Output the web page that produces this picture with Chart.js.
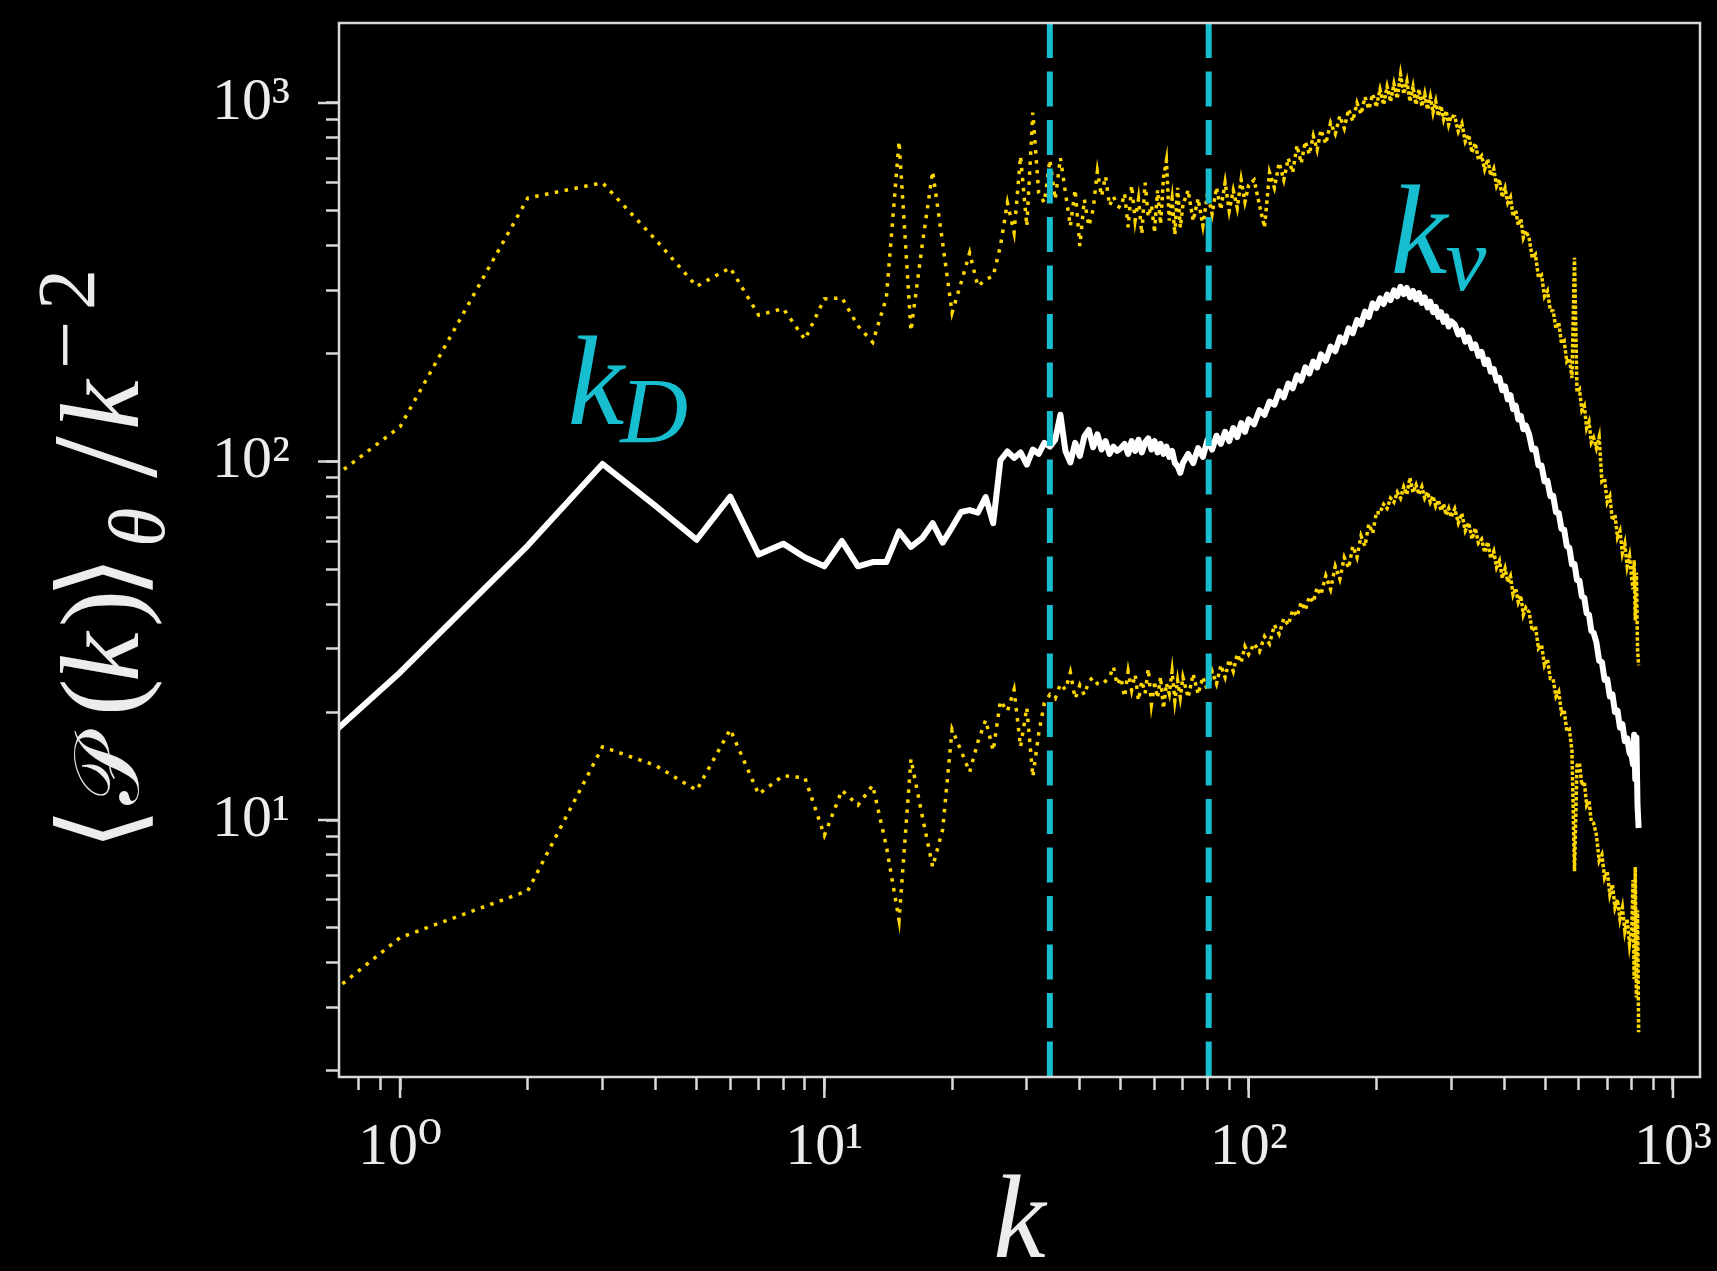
<!DOCTYPE html>
<html><head><meta charset="utf-8">
<script src="https://cdn.jsdelivr.net/npm/chart.js"></script>
<style>
html,body{margin:0;padding:0;background:#000;}
canvas{display:block;}
</style></head>
<body>
<canvas id="c" width="1717" height="1271"></canvas>
<script>
// ---------------- data ----------------
const kValues = [0.5, 1, 2, 3, 4, 5, 6, 7, 8, 9, 10, 11, 12, 13, 14, 15, 16, 17, 18, 19, 20,
  21, 22, 23, 24, 25, 26, 27, 28, 29, 30, 31, 32, 33, 34, 35, 36, 37, 38, 39, 40,
  41, 42, 43, 44, 45, 46, 47, 48, 49, 50,
  51, 52, 53, 54, 55, 56, 57, 58, 59, 60, 61, 62, 63, 64, 65, 66, 67, 68, 69, 70,
  72, 74, 76, 78, 80, 82, 84, 86, 88, 90, 92, 94, 96, 98, 100,
  103, 106, 109, 112, 115, 118, 121, 124, 127, 130, 133, 136, 139, 142, 145, 148,
  152, 156, 160, 164, 168, 172, 176, 180, 184, 188, 192, 196, 200,
  204, 208, 212, 216, 220, 224, 228, 232, 236, 240, 244, 248, 252, 256, 260, 264, 268, 272, 276, 280, 284, 288, 292, 296, 300,
  306, 312, 318, 324, 330, 336, 342, 348, 354, 360, 366, 372, 378, 384, 390, 396, 402, 408, 414, 420, 426, 432, 438, 444, 450,
  458, 466, 474, 482, 490, 498, 506, 514, 522, 530, 538, 546, 554, 562, 570, 578, 586, 594, 602, 610, 618, 626, 634, 642, 650,
  660, 670, 680, 690, 700, 710, 720, 730, 740, 750, 760, 770, 780, 790, 800,
  805, 810, 815, 820, 825, 830];

// mean spectrum (white solid)
const meanSpectrum = [12.3, 25.8, 58.3, 98.4, 75.2, 60.5, 79.8, 55, 59, 54, 51,
  60, 51, 52.4, 52.4, 63.8, 57.8, 61.1, 67.3, 59.4, 65.5,
  72.3, 73.2, 72, 79.6, 67.3, 100.8, 106.6, 102.3, 106, 98,
  108, 105, 112.7, 110, 115, 135, 107, 99.4, 112.7, 103.6,
  117.5, 122.5, 109.6, 119, 108, 114, 105, 110, 107, 109,
  112, 105, 114, 107, 115, 106, 113, 116, 108, 114, 106, 112, 105, 110, 103, 107, 99, 97, 93, 99,
  105, 99, 109, 103, 115, 108, 118, 112, 121, 114, 124, 117, 128, 121, 131,
  127, 139, 135, 147, 144, 157, 151, 165, 160, 174, 168, 183, 176, 190, 183, 199,
  191, 209, 203, 222, 215, 235, 228, 248, 241, 262, 253, 276, 268,
  285, 275, 292, 282, 300, 289, 307, 293, 305, 287, 299, 283, 295, 277, 287, 269, 279, 261, 270, 253, 261, 245, 254, 238, 246,
  241, 226, 232, 216, 222, 207, 212, 197, 202, 187, 192, 178, 181, 168, 171, 158, 162, 149, 153, 140, 143, 131, 134, 123, 126,
  119, 108, 108.5, 97.5, 97.5, 88, 88.3, 80, 80.2, 72.2, 71.8, 64.9, 64.6, 58.1, 57.4, 51.7, 51.8, 46.7, 46.5, 42, 41.7, 37.7, 37.4, 33.7, 33.3,
  31.3, 27.8, 27.6, 24.6, 24.7, 22.1, 22.4, 20, 20.2, 18.1, 18.5, 16.6, 16.9, 15.4, 15.0,
  14.3, 17.3, 13, 17, 11, 9.5];

// upper envelope (gold dotted)
const upperSpectrum = [67, 125, 543, 599, 416, 308, 347, 256, 267, 219, 284,
  286, 239, 215, 286, 782, 231, 400, 645, 407, 260,
  315, 382, 308, 322, 329, 399, 527, 435, 711, 453,
  940, 561, 527, 695, 538, 703, 562, 453, 574, 399,
  538, 453, 505, 645, 549, 625, 516, 549, 516, 510,
  560, 450, 590, 470, 540, 430, 600, 480, 520, 440, 570, 460, 620, 690, 470, 540, 430, 580, 450, 520,
  570, 470, 540, 455, 560, 490, 580, 505, 600, 500, 570, 510, 610, 530, 590,
  610, 520, 450, 640, 580, 680, 610, 700, 640, 760, 680, 780, 720, 810, 740, 840,
  770, 880, 820, 920, 850, 960, 890, 1000, 930, 1040, 960, 1060, 980,
  1090, 990, 1110, 1010, 1130, 1030, 1200, 1060, 1150, 1010, 1110, 990, 1090, 980, 1060, 960, 1040, 940, 1010, 920, 980, 900, 950, 870, 920,
  915, 832, 877, 780, 814, 728, 771, 695, 712, 653, 696, 628, 655, 587, 611, 546, 578, 527, 546, 483, 501, 456, 475, 421, 439,
  421, 370, 378, 326, 331, 289, 299, 264, 263, 235, 244, 214, 217, 190, 194, 171, 370, 156, 159, 139, 143, 124, 129, 113, 116.5,
  109, 117, 88, 89.5, 77, 80, 68.5, 71, 61.5, 64, 55.5, 59, 51, 54.5, 47,
  44, 53, 36, 49, 30, 27];

// lower envelope (gold dotted)
const lowerSpectrum = [2.43, 4.7, 6.35, 16.0, 14.2, 12.1, 17.9, 11.8, 13.3, 13.1, 9.06,
  12.1, 11.0, 12.5, 8.45, 5.26, 14.8, 10.3, 7.4, 9.4, 17.9,
  15.6, 13.6, 16.5, 19.0, 15.6, 21.5, 20.1, 23.1, 16.0, 20.6,
  13.2, 17.4, 21.2, 22.4, 21.8, 24.0, 23.1, 25.8, 21.8, 23.8,
  22.3, 24.4, 25.0, 24.0, 23.8, 24.4, 25.0, 26.8, 23.8, 25.0,
  22, 26, 23, 25.5, 21.5, 24.5, 22.5, 26.5, 21, 24, 22, 25, 20.5, 24, 22.5, 26, 21.5, 24.5, 22, 25,
  22, 25.5, 22.5, 25, 23, 26, 24, 27, 25, 28, 26, 29, 27.5, 30.5, 29,
  31, 29.5, 32.5, 31, 35, 33, 36.5, 35, 38.5, 37, 40.5, 38.5, 42, 40.5, 44.5, 42.5,
  48, 44, 51, 47, 54, 50.5, 58, 54, 62, 58, 67, 63, 72,
  72, 76, 74, 79, 77, 82, 79, 85, 81, 90, 82, 86, 81, 85, 79, 82, 77, 80, 75, 78, 73, 76, 71, 74, 70,
  73.8, 67.4, 71.6, 64.1, 67.4, 60.8, 65.1, 59.2, 60.7, 55.8, 59.6, 53.7, 56.2, 50.6, 52.8, 47.3, 50.3, 46.1, 47.9, 42.5, 44.3, 40.5, 42.2, 37.4, 39.1,
  38.0, 33.7, 34.7, 30.1, 30.8, 27.0, 28.1, 24.8, 24.7, 22.1, 22.8, 19.9, 20.3, 17.7, 17.9, 15.6, 7.2, 14.2, 14.4, 12.5, 12.8, 11.0, 11.3, 9.9, 9.8,
  9.1, 7.7, 8.0, 6.9, 7.2, 6.2, 6.6, 5.7, 6.0, 5.3, 5.7, 4.9, 5.3, 4.5, 5.0,
  6.8, 3.6, 7.4, 3.2, 5.6, 2.56];

// vertical reference lines (k values)
const markerK = [34, 80.5];

// axis ranges and ticks
const xRange = [0.718, 1158];
const yRange = [1.92, 1671];
const xMajorTicks = [1, 10, 100, 1000];
const xMajorLabels = ['10\u2070', '10\u00b9', '10\u00b2', '10\u00b3'];
const yMajorTicks = [10, 100, 1000];
const yMajorLabels = ['10\u00b9', '10\u00b2', '10\u00b3'];
const minorMultipliers = [2, 3, 4, 5, 6, 7, 8, 9];
const xMinorDecades = [0.1, 1, 10, 100];
const yMinorDecades = [1, 10, 100, 1000];

// annotation anchors (data coordinates of the text baseline start)
const kDLabelAt = {k: 2.48, v: 127};
const kNuLabelAt = {k: 216, v: 336};

// ---------------- styling ----------------
const SERIF = "'Liberation Serif','DejaVu Serif','DejaVu Sans',serif";
const FRAME = '#d9d9d9';
const GOLD = '#ffd700';
const CYAN = '#17becf';
const TEXT = '#ececec';

function tickList(minors, majors, range) {
  const list = [];
  minors.forEach(d => minorMultipliers.forEach(m => {
    const v = m * d;
    if (v > range[0] && v < range[1]) list.push({value: v, major: false});
  }));
  majors.forEach(v => { if (v > range[0] && v < range[1]) list.push({value: v, major: true}); });
  list.sort((a, b) => a.value - b.value);
  return list;
}

const pts = arr => kValues.map((k, i) => ({x: k, y: arr[i]}));
const vline = k => [{x: k, y: yRange[1]}, {x: k, y: yRange[0]}];
// densely sampled (noisy) part of the dotted curves: the dots crowd together
const dottedSegment = {
  borderDash: ctx => {
    const k = kValues[ctx.p0DataIndex];
    return k >= 200 ? [3.5, 2] : (k >= 60 ? [3.5, 4] : undefined);
  }
};

const bgPlugin = {
  id: 'bg',
  beforeDraw(chart) {
    const c = chart.ctx;
    c.save(); c.fillStyle = '#000'; c.fillRect(0, 0, chart.width, chart.height); c.restore();
  }
};

// place a run so that its ink starts at position `at` along the baseline
function placeRun(c, r) {
  c.font = r.f;
  const m = c.measureText(r.t);
  c.fillText(r.t, r.at + m.actualBoundingBoxLeft, r.dy);
}

const decorPlugin = {
  id: 'decor',
  afterDraw(chart) {
    const c = chart.ctx, a = chart.chartArea, xs = chart.scales.x, ys = chart.scales.y;
    c.save();
    c.strokeStyle = FRAME;
    c.lineWidth = 2.5;
    // long major ticks
    c.beginPath();
    xs.ticks.forEach(t => { if (t.major) { const p = xs.getPixelForValue(t.value); c.moveTo(p, a.bottom); c.lineTo(p, a.bottom + 21); } });
    ys.ticks.forEach(t => { if (t.major) { const p = ys.getPixelForValue(t.value); c.moveTo(a.left - 21, p); c.lineTo(a.left, p); } });
    c.stroke();
    // frame
    c.strokeRect(a.left, a.top, a.right - a.left, a.bottom - a.top);

    // annotations
    c.fillStyle = CYAN;
    c.textBaseline = 'alphabetic';
    c.textAlign = 'left';
    let px = xs.getPixelForValue(kDLabelAt.k), py = ys.getPixelForValue(kDLabelAt.v);
    c.font = `italic 128px ${SERIF}`;
    c.fillText('k', px, py);
    let w = c.measureText('k').width;
    c.font = `italic 94px ${SERIF}`;
    c.fillText('D', px + w - 4, py + 18);

    px = xs.getPixelForValue(kNuLabelAt.k); py = ys.getPixelForValue(kNuLabelAt.v);
    c.font = `italic 128px ${SERIF}`;
    c.fillText('k', px, py);
    w = c.measureText('k').width;
    c.font = `italic 92px ${SERIF}`;
    c.fillText('\u03bd', px + w - 2, py + 17);

    // y axis label  <P(k)>_theta / k^-2  (reading bottom to top)
    c.fillStyle = TEXT;
    c.translate(138, 841);
    c.rotate(-Math.PI / 2);
    const M = 112;
    const runs = [
      {t: '\u27e8', f: `${M}px ${SERIF}`, at: 0, dy: 0},
      {t: '\ud835\udcab', f: `92px ${SERIF}`, at: 36, dy: 0},
      {t: '(', f: `${M}px ${SERIF}`, at: 129, dy: 0},
      {t: 'k', f: `italic ${M}px ${SERIF}`, at: 162, dy: 0},
      {t: ')', f: `${M}px ${SERIF}`, at: 217, dy: 0},
      {t: '\u27e9', f: `${M}px ${SERIF}`, at: 250, dy: 0},
      {t: '\u03b8', f: `italic 80px ${SERIF}`, at: 297, dy: 26},
      {t: '/', f: `150px ${SERIF}`, at: 363, dy: 18},
      {t: 'k', f: `italic ${M}px ${SERIF}`, at: 414, dy: 0},
      {t: '\u2212', f: `86px ${SERIF}`, at: 476, dy: -44},
      {t: '2', f: `82px ${SERIF}`, at: 534, dy: -44}
    ];
    runs.forEach(r => placeRun(c, r));
    c.restore();
  }
};

new Chart(document.getElementById('c'), {
  type: 'line',
  data: {
    datasets: [
      {data: vline(markerK[0]), borderColor: CYAN, borderWidth: 6, borderDash: [35, 13.5], pointRadius: 0, order: 0},
      {data: vline(markerK[1]), borderColor: CYAN, borderWidth: 6, borderDash: [35, 13.5], pointRadius: 0, order: 0},
      {data: pts(meanSpectrum), borderColor: '#ffffff', borderWidth: 6, pointRadius: 0, tension: 0, borderJoinStyle: 'round', order: 1},
      {data: pts(upperSpectrum), borderColor: GOLD, borderWidth: 3.5, borderDash: [3.5, 6.5], segment: dottedSegment, pointRadius: 0, tension: 0, order: 2},
      {data: pts(lowerSpectrum), borderColor: GOLD, borderWidth: 3.5, borderDash: [3.5, 6.5], segment: dottedSegment, pointRadius: 0, tension: 0, order: 3}
    ]
  },
  options: {
    responsive: false,
    animation: false,
    devicePixelRatio: 1,
    events: [],
    layout: {padding: {top: 23, right: 17, bottom: 0, left: 0}},
    plugins: {legend: {display: false}, tooltip: {enabled: false}},
    scales: {
      x: {
        type: 'logarithmic', position: 'bottom', min: xRange[0], max: xRange[1], bounds: 'data',
        border: {display: false},
        grid: {display: true, drawOnChartArea: false, drawTicks: true, tickLength: 13, tickWidth: 2.5, tickColor: FRAME},
        afterBuildTicks: s => { s.ticks = tickList(xMinorDecades, xMajorTicks, xRange); },
        afterFit: s => { s.height = 194; s.paddingLeft = 0; s.paddingRight = 0; },
        ticks: {
          autoSkip: false, maxRotation: 0, minRotation: 0, padding: 22, color: TEXT,
          font: {family: SERIF, size: 60},
          callback: v => { const i = xMajorTicks.indexOf(v); return i >= 0 ? xMajorLabels[i] : ''; }
        },
        title: {display: true, text: 'k', color: TEXT, font: {family: SERIF, style: 'italic', size: 118, lineHeight: 1}, padding: {top: 0, bottom: -14}}
      },
      y: {
        type: 'logarithmic', position: 'left', min: yRange[0], max: yRange[1], bounds: 'data',
        border: {display: false},
        grid: {display: true, drawOnChartArea: false, drawTicks: true, tickLength: 13, tickWidth: 2.5, tickColor: FRAME},
        afterBuildTicks: s => { s.ticks = tickList(yMinorDecades, yMajorTicks, yRange); },
        afterFit: s => { s.width = 339; s.paddingTop = 0; s.paddingBottom = 0; },
        ticks: {
          autoSkip: false, padding: 36, color: TEXT,
          font: {family: SERIF, size: 60},
          callback: v => { const i = yMajorTicks.indexOf(v); return i >= 0 ? yMajorLabels[i] : ''; }
        }
      }
    }
  },
  plugins: [bgPlugin, decorPlugin]
});
</script>
</body></html>
